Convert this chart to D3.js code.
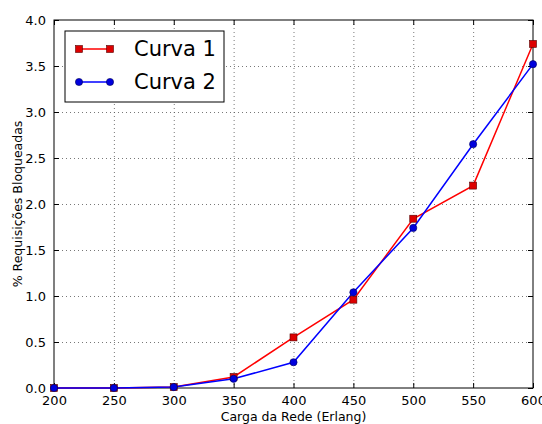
<!DOCTYPE html>
<html>
<head>
<meta charset="utf-8">
<script src="https://d3js.org/d3.v7.min.js"></script>
<style>
  body { margin: 0; background: #fff; }
  svg text { font-family: "DejaVu Sans", sans-serif; fill: #000; }
</style>
</head>
<body>
<svg id="chart" width="542" height="424"></svg>
<script>
// data
var cargas = [200, 250, 300, 350, 400, 450, 500, 550, 600];
var curva1 = [0, 0, 0.01, 0.12, 0.55, 0.96, 1.84, 2.2, 3.74];
var curva2 = [0, 0, 0.01, 0.1, 0.28, 1.04, 1.74, 2.65, 3.52];
var xTicks = [200, 250, 300, 350, 400, 450, 500, 550, 600];
var yTicks = [0, 0.5, 1, 1.5, 2, 2.5, 3, 3.5, 4];
var nomes = ["Curva 1", "Curva 2"];

var svg = d3.select("#chart");
var M = { top: 20, right: 9, bottom: 36, left: 54 };
var W = 542 - M.left - M.right;
var H = 424 - M.top - M.bottom;

var x = d3.scaleLinear().domain([200, 600]).range([0, W]);
var y = d3.scaleLinear().domain([0, 4]).range([H, 0]);

var g = svg.append("g").attr("transform", "translate(" + M.left + "," + M.top + ")");

// grid
g.selectAll(".gx").data(xTicks.slice(1, -1)).enter().append("line")
  .attr("x1", d => x(d) + 0.5).attr("x2", d => x(d) + 0.5)
  .attr("y1", 0).attr("y2", H)
  .attr("stroke", "#555").attr("stroke-width", 0.8).attr("stroke-dasharray", "1,3");
g.selectAll(".gy").data(yTicks.slice(1, -1)).enter().append("line")
  .attr("y1", d => y(d) + 0.5).attr("y2", d => y(d) + 0.5)
  .attr("x1", 0).attr("x2", W)
  .attr("stroke", "#555").attr("stroke-width", 0.8).attr("stroke-dasharray", "1,3");

// axes
var xAxis = d3.axisBottom(x).tickValues(xTicks).tickSizeInner(-5).tickSizeOuter(0).tickPadding(8);
var yAxis = d3.axisLeft(y).tickValues(yTicks).tickSizeInner(-5).tickSizeOuter(0).tickPadding(8)
  .tickFormat(d3.format(".1f"));

var gx = g.append("g").attr("transform", "translate(0," + H + ")").call(xAxis);
var gy = g.append("g").call(yAxis);
// ticks on top / right too
g.append("g").call(d3.axisTop(x).tickValues(xTicks).tickSizeInner(-5).tickSizeOuter(0).tickFormat(""));
g.append("g").attr("transform", "translate(" + W + ",0)")
  .call(d3.axisRight(y).tickValues(yTicks).tickSizeInner(-5).tickSizeOuter(0).tickFormat(""));

g.selectAll(".domain").remove();
g.selectAll(".tick line").attr("stroke", "#000");
gx.selectAll("text").attr("font-size", 13);
gy.selectAll("text").attr("font-size", 13).attr("dy", "0.35em");

g.append("rect").attr("x", 0).attr("y", 0).attr("width", W).attr("height", H)
  .attr("fill", "none").attr("stroke", "#000").attr("stroke-width", 1);

// lines
var line = d3.line().x((d, i) => x(cargas[i])).y(d => y(d));

g.append("path").datum(curva1).attr("d", line)
  .attr("fill", "none").attr("stroke", "#ff0000").attr("stroke-width", 1.5);
g.append("path").datum(curva2).attr("d", line)
  .attr("fill", "none").attr("stroke", "#0000ff").attr("stroke-width", 1.5);

g.selectAll(".sq").data(curva1).enter().append("rect")
  .attr("x", (d, i) => x(cargas[i]) - 3.5).attr("y", d => y(d) - 3.5)
  .attr("width", 7).attr("height", 7)
  .attr("fill", "#dd0000").attr("stroke", "#550000").attr("stroke-width", 0.6);
g.selectAll(".ci").data(curva2).enter().append("circle")
  .attr("cx", (d, i) => x(cargas[i])).attr("cy", d => y(d)).attr("r", 3.6)
  .attr("fill", "#0000dd").attr("stroke", "#000055").attr("stroke-width", 0.6);

// legend
var lg = svg.append("g").attr("transform", "translate(65,31)");
lg.append("rect").attr("x", 0).attr("y", 0).attr("width", 159).attr("height", 71)
  .attr("fill", "#fff").attr("stroke", "#000").attr("stroke-width", 1);
var cores = ["#ff0000", "#0000ff"];
nomes.forEach(function (n, i) {
  var yy = 18 + i * 33;
  lg.append("line").attr("x1", 14).attr("x2", 45).attr("y1", yy).attr("y2", yy)
    .attr("stroke", cores[i]).attr("stroke-width", 1.5);
  [14, 45].forEach(function (xx) {
    if (i === 0) {
      lg.append("rect").attr("x", xx - 3.5).attr("y", yy - 3.5).attr("width", 7).attr("height", 7)
        .attr("fill", "#dd0000").attr("stroke", "#550000").attr("stroke-width", 0.6);
    } else {
      lg.append("circle").attr("cx", xx).attr("cy", yy).attr("r", 3.6)
        .attr("fill", "#0000dd").attr("stroke", "#000055").attr("stroke-width", 0.6);
    }
  });
  lg.append("text").attr("x", 69).attr("y", yy).attr("dy", "0.35em")
    .attr("font-size", 21).text(n);
});

// axis labels
svg.append("text").attr("x", M.left + W / 2).attr("y", 421)
  .attr("text-anchor", "middle").attr("font-size", 12.5).text("Carga da Rede (Erlang)");
svg.append("text").attr("transform", "translate(22," + (M.top + H / 2) + ") rotate(-90)")
  .attr("text-anchor", "middle").attr("font-size", 12.5).text("% Requisições Bloqueadas");
</script>
</body>
</html>
